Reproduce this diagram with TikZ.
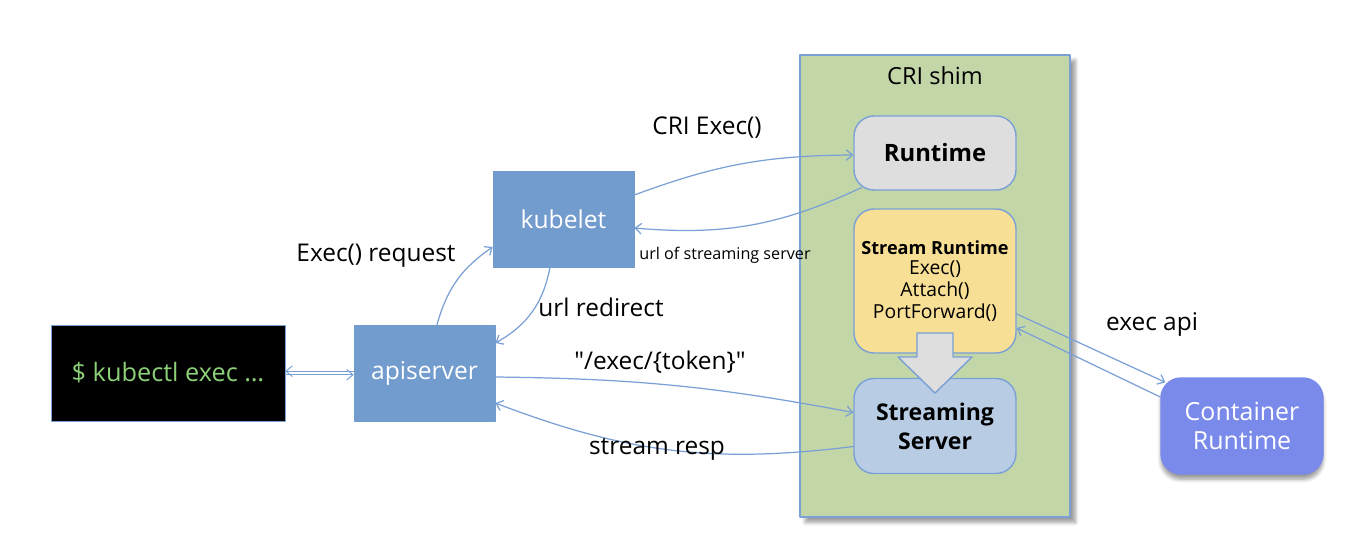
\documentclass[tikz,border=0pt]{standalone}
\usepackage{fontspec}
\setmainfont{Open Sans}
\usetikzlibrary{arrows.meta,shadows.blur}
\definecolor{boxblue}{RGB}{114,155,206}
\definecolor{edgeblue}{RGB}{122,160,214}
\definecolor{shimgreen}{RGB}{195,214,168}
\definecolor{rtgray}{RGB}{222,222,222}
\definecolor{streamyellow}{RGB}{248,223,150}
\definecolor{srvblue}{RGB}{184,204,228}
\definecolor{crviolet}{RGB}{122,138,234}
\definecolor{termgreen}{RGB}{140,208,120}

\begin{document}
\begin{tikzpicture}[x=0.02cm,y=-0.02cm,line cap=round,line join=round,>={Straight Barb[length=3.5pt,width=6pt]},
  conn/.style={draw=edgeblue,line width=0.7pt},
  lbl/.style={font=\fontsize{13.9}{16}\selectfont,text=black},
  flatbox/.style={draw=boxblue,fill=boxblue,inner sep=0pt,minimum width=2.82cm,minimum height=1.92cm,text=white,font=\fontsize{14}{16}\selectfont},
  roundbox/.style={draw=edgeblue,line width=0.8pt,rounded corners=0.4cm,inner sep=0pt,minimum width=3.24cm,align=center}]
  \useasboundingbox (0,0) rectangle (1372,548);
  % shim container
  \node[draw=edgeblue,fill=shimgreen,line width=0.8pt,inner sep=0pt,minimum width=5.4cm,minimum height=9.24cm,
        blur shadow={shadow xshift=3pt,shadow yshift=-3pt,shadow blur steps=6}] (shim) at (935,286) {};
  \node[lbl,font=\fontsize{13.4}{16}\selectfont] (shimtitle) at (935,76) {CRI shim};
  % boxes
  \node[draw=edgeblue,fill=black,inner sep=0pt,minimum width=4.68cm,minimum height=1.92cm,text=termgreen,
        font=\fontsize{14.4}{16}\selectfont] (kubectl) at (168,373) {\$ kubectl exec …};
  \node[flatbox] (api) at (424.5,373) {apiserver};
  \node[flatbox] (kubelet) at (563.5,219) {kubelet};
  \node[roundbox,fill=rtgray,minimum height=1.48cm,font=\bfseries\fontsize{13.6}{15}\selectfont] (runtime) at (935,153) {Runtime};
  \node[roundbox,fill=streamyellow,minimum height=2.88cm,font=\fontsize{11}{12.6}\selectfont] (streamrt) at (935,281)
       {{\bfseries\fontsize{10.3}{12.6}\selectfont Stream Runtime}\\[-1pt]Exec()\\Attach()\\PortForward()};
  \node[roundbox,fill=srvblue,minimum height=1.9cm,font=\bfseries\fontsize{13.1}{16.5}\selectfont] (streaming) at (935,426) {Streaming\\Server};
  \node[roundbox,draw=crviolet,fill=crviolet,minimum height=1.92cm,text=white,font=\fontsize{14.2}{16.5}\selectfont,
        blur shadow={shadow xshift=0pt,shadow yshift=-3pt,shadow blur steps=6}] (container) at (1242,426) {Container\\Runtime};
  % big arrow
  \draw[draw=edgeblue,fill=rtgray,line width=0.8pt] (917,333) -- (953,333) -- (953,357) -- (972,357) -- (935,393) -- (898,357) -- (917,357) -- cycle;
  % connectors
  \draw[conn,line width=0.55pt,<-] ([yshift=1pt]kubectl.east) -- ([yshift=1pt]api.west);
  \draw[conn,line width=0.55pt,->] ([yshift=-1pt]kubectl.east) -- ([yshift=-1pt]api.west);
  \draw[conn,->] ([xshift=0.25cm]api.north) to[bend left=20] ([yshift=-0.56cm]kubelet.west);
  \draw[conn,->] ([xshift=-0.27cm]kubelet.south) to[bend left=25] ([yshift=0.6cm]api.east);
  \draw[conn,->] ([yshift=0.48cm]kubelet.east) to[bend left=10] ([yshift=-0.04cm]runtime.west);
  \draw[conn,->] ([xshift=0.16cm,yshift=0.06cm]runtime.south west) to[bend left=15] ([yshift=-0.18cm]kubelet.east);
  \draw[conn,->] ([yshift=-0.08cm]api.east) to[bend left=5] ([yshift=0.27cm]streaming.west);
  \draw[conn,->] ([yshift=-0.41cm]streaming.west) to[bend left=14] ([yshift=-0.6cm]api.east);
  \draw[conn,->] ([yshift=-0.66cm]streamrt.east) -- ([xshift=0.1cm,yshift=-0.1cm]container.north west);
  \draw[conn,->] ([yshift=0.58cm]container.west) -- ([yshift=-0.94cm]streamrt.east);
  % labels
  \node[lbl] (lexec) at (376,256) {Exec() request};
  \node[lbl] (lredirect) at (601,307) {url redirect};
  \node[lbl] (lcri) at (707,128) {CRI Exec()};
  \node[font=\fontsize{9.2}{11}\selectfont] (lurl) at (725,255) {url of streaming server};
  \node[lbl] (ltoken) at (660,362) {\textquotedbl/exec/\{token\}\textquotedbl};
  \node[lbl] (lresp) at (657,449) {stream resp};
  \node[lbl] (lapi) at (1152,324) {exec api};
\end{tikzpicture}
\end{document}
